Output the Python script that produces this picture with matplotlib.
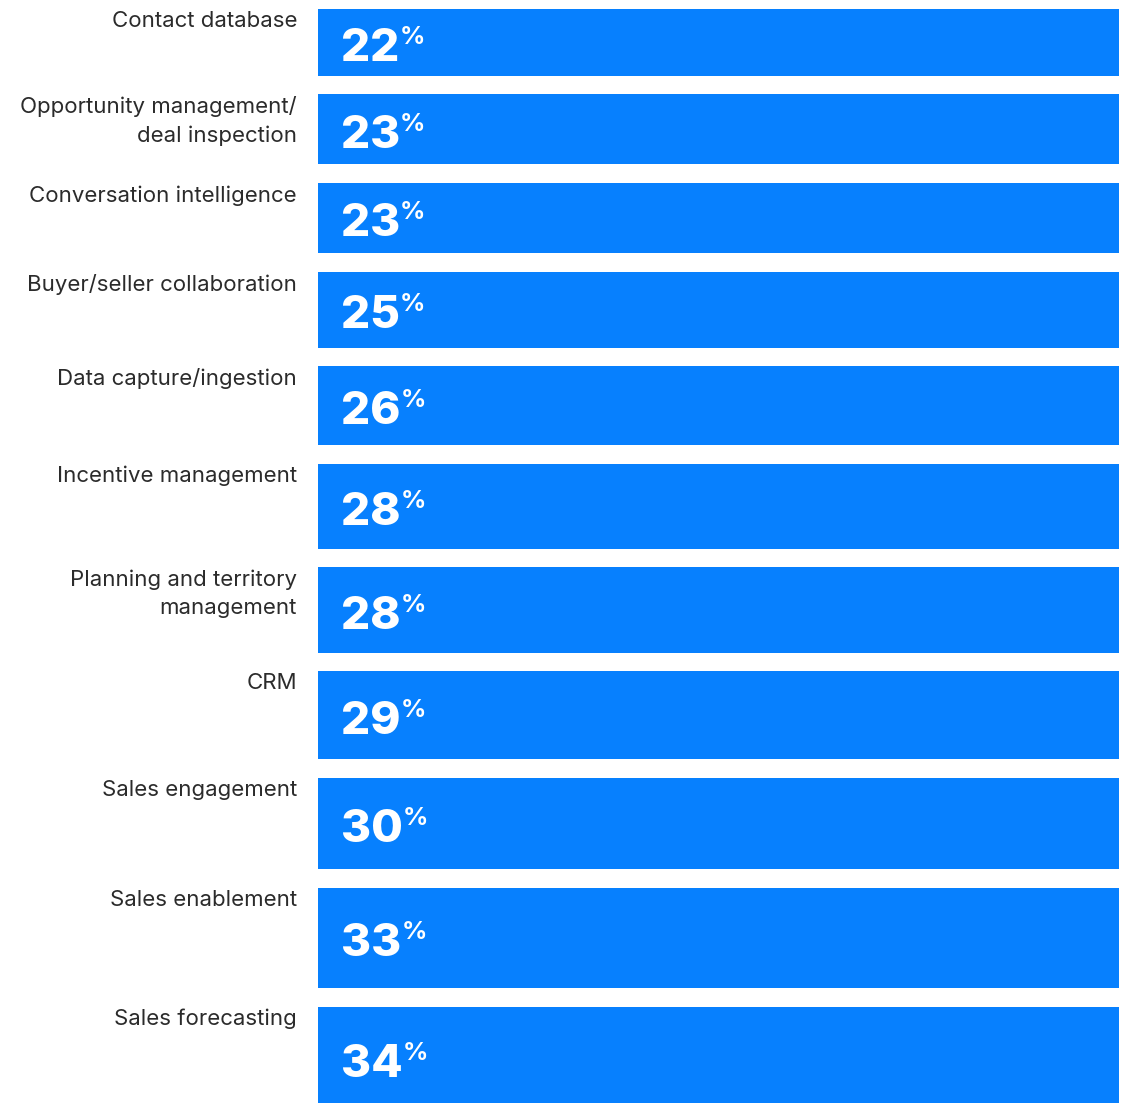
import matplotlib
matplotlib.use("Agg")
import matplotlib.pyplot as plt

categories = [
    "Contact database",
    "Opportunity management/\ndeal inspection",
    "Conversation intelligence",
    "Buyer/seller collaboration",
    "Data capture/ingestion",
    "Incentive management",
    "Planning and territory\nmanagement",
    "CRM",
    "Sales engagement",
    "Sales enablement",
    "Sales forecasting",
]
values = [22, 23, 23, 25, 26, 28, 28, 29, 30, 33, 34]

W, H = 1128, 1103
PX_PER_UNIT = 3.04     # bar thickness encodes the value
GAP = 18.6 / PX_PER_UNIT
TOP0 = 9 / PX_PER_UNIT
BAR_COLOR = "#0780FE"
LABEL_COLOR = "#2b2b2b"

fig = plt.figure(figsize=(W / 100, H / 100), dpi=100)
ax = fig.add_axes([0, 0, 1, 1])
ax.set_xlim(0, W)
ax.set_ylim(H / PX_PER_UNIT, 0)
ax.axis("off")

centers = []
top = TOP0
for v in values:
    centers.append(top + v / 2)
    top += v + GAP

ax.barh(centers, [801] * len(values), height=values, left=318,
        color=BAR_COLOR, linewidth=0)

px = 1 / PX_PER_UNIT
for c, v, lab in zip(centers, values, categories):
    bar_top = c - v / 2
    ax.text(297, bar_top + 2 * px, lab, ha="right", va="top",
            fontsize=16, family="Inter", color=LABEL_COLOR,
            linespacing=1.5)
    base = c + 18.5 * px
    t = ax.text(341, base, f"{v}", ha="left", va="baseline",
                fontsize=33, family="Inter", fontweight="heavy",
                color="white")
    ax.annotate("%", xy=(1, base), xycoords=(t, "data"),
                xytext=(0, 17), textcoords="offset pixels",
                ha="left", va="baseline", fontsize=18, family="Inter",
                fontweight="bold", color="white")

fig.savefig("out.png", dpi=100)
